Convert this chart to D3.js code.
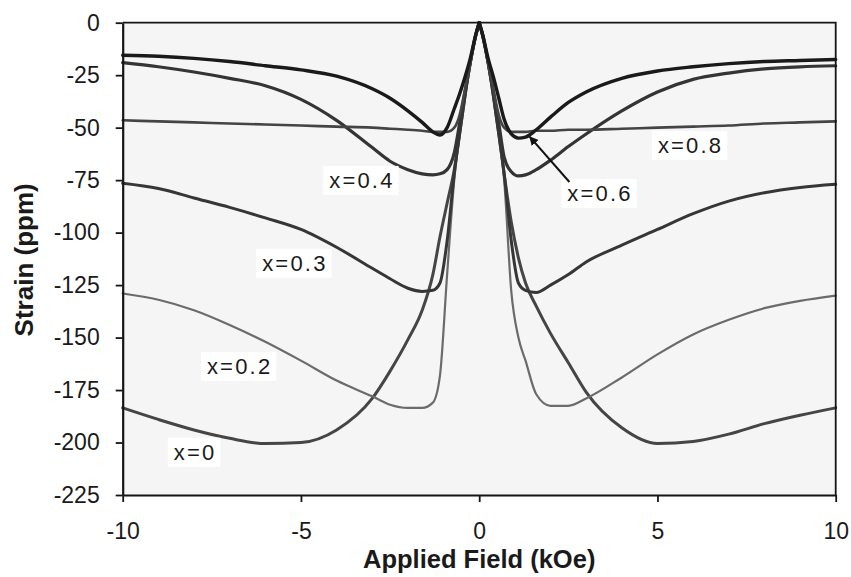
<!DOCTYPE html>
<html>
<head>
<meta charset="utf-8">
<script src="https://cdn.jsdelivr.net/npm/d3@7"></script>
<style>
  html, body { margin: 0; padding: 0; background: #ffffff; }
  svg { display: block; }
  text { font-family: "Liberation Sans", Arial, sans-serif; fill: #1a1a1a; }
</style>
</head>
<body>
<svg id="chart" width="851" height="577"></svg>
<script>
// Applied field grid (kOe), shared by every composition
const fieldGrid = [-10, -9, -8, -7, -6, -5, -4, -3, -2.5, -2, -1.6, -1.3, -1.1, -0.9, -0.7, -0.55, -0.4, -0.25, -0.1, 0,
                   0.1, 0.25, 0.4, 0.55, 0.7, 0.9, 1.1, 1.3, 1.6, 2, 2.5, 3, 4, 5, 6, 7, 8, 9, 10];

// Magnetostriction (ppm) for each composition x
const strainX0  = [-183.5, -189, -194, -198, -200.5, -200, -194, -179, -166, -151, -137, -120, -102, -86, -70, -53, -35, -19, -6, 0,
                   -6, -19, -35, -53, -72, -95, -112, -124, -135, -148, -162, -176, -193, -200.5, -199.5, -196, -191, -187, -183.5];
const strainX02 = [-129, -132, -137, -144, -152, -161, -170.5, -178, -182, -183.5, -183.5, -181, -168, -120, -75, -53, -35, -19, -6, 0,
                   -6, -19, -35, -53, -75, -128, -150, -161, -177, -182.5, -182.5, -179, -169, -158, -148.5, -141.5, -136, -132.5, -130];
const strainX03 = [-76.5, -79, -83.5, -88, -93, -98.5, -107, -117, -122, -126.5, -128, -127.5, -124, -104, -72, -53, -35, -19, -6, 0,
                   -6, -19, -35, -53, -72, -104, -124, -127.5, -128.5, -125, -120, -114, -106, -98.5, -91, -85, -81, -78.5, -77];
const strainX04 = [-19, -21, -23.5, -26.5, -30, -36.5, -46.5, -59.5, -66, -70, -72, -72.5, -72, -70, -62, -48, -33, -19, -6, 0,
                   -6, -19, -33, -48, -64, -71, -73, -72.5, -70, -65.5, -59, -53, -42, -33, -27, -24, -22, -21, -20.5];
const strainX06 = [-15.5, -16, -17, -18.5, -20.5, -22.5, -25.5, -31.5, -36, -42, -47.5, -52, -53.5, -50, -41, -34, -26, -17, -6, 0,
                   -6, -17, -26, -36, -46, -53, -55, -54.5, -51, -45, -38, -33, -26.5, -23, -21, -19.5, -18.5, -18, -17.5];
const strainX08 = [-46.5, -47, -47.5, -48, -48.5, -49, -49.5, -50, -50.5, -51, -51.5, -52, -52, -52, -50, -44, -32, -19, -7, 0,
                   -7, -19, -32, -44, -50, -52, -52, -52, -51.5, -51.5, -51, -51, -50.5, -50, -49.5, -49, -48, -47.5, -47];

// Axis ticks
const fieldTicks = [-10, -5, 0, 5, 10];
const strainTicks = [0, -25, -50, -75, -100, -125, -150, -175, -200, -225];

// Curve annotations: text, anchor field (kOe) and strain (ppm)
const labelText   = ["x=0.4", "x=0.3", "x=0.2", "x=0", "x=0.8", "x=0.6"];
const labelField  = [-3.29, -5.17, -6.72, -7.97, 5.93, 3.39];
const labelStrain = [-78.7, -118.2, -167.3, -208.2, -62.0, -84.9];

// Pointer from the x=0.6 label to its positive-field minimum
const pointerFrom = [2.53, -75.9];
const pointerTo   = [1.42, -54.4];

const series = [
  { name: "x=0",   values: strainX0,  color: "#454545", width: 3.0 },
  { name: "x=0.2", values: strainX02, color: "#6b6b6b", width: 2.2 },
  { name: "x=0.3", values: strainX03, color: "#363636", width: 3.0 },
  { name: "x=0.4", values: strainX04, color: "#343434", width: 3.2 },
  { name: "x=0.8", values: strainX08, color: "#444444", width: 2.6 },
  { name: "x=0.6", values: strainX06, color: "#1a1a1a", width: 3.4 }
];

const svg = d3.select("#chart");
const margin = { left: 122.7, top: 22.7, right: 15.3, bottom: 82 };
const W = 851, H = 577;

const x = d3.scaleLinear().domain([-10, 10]).range([margin.left, W - margin.right]);
const y = d3.scaleLinear().domain([-225, 0]).range([H - margin.bottom, margin.top]);

// Plot area
svg.append("rect")
  .attr("x", x(-10)).attr("y", y(0))
  .attr("width", x(10) - x(-10)).attr("height", y(-225) - y(0))
  .attr("fill", "#f5f5f5");

// Curves: each composition drawn as a negative-field and a positive-field branch
const line = d3.line()
  .x(d => x(d[0]))
  .y(d => y(d[1]))
  .curve(d3.curveMonotoneX);

const curves = svg.append("g").attr("fill", "none")
  .attr("stroke-linejoin", "round").attr("stroke-linecap", "round");

series.forEach(s => {
  const pts = fieldGrid.map((f, i) => [f, s.values[i]]);
  const neg = pts.filter(p => p[0] <= 0);
  const pos = pts.filter(p => p[0] >= 0);
  [neg, pos].forEach(branch => {
    curves.append("path")
      .attr("d", line(branch))
      .attr("stroke", s.color)
      .attr("stroke-width", s.width);
  });
});

// Frame (top and right)
svg.append("path")
  .attr("d", `M${x(-10)},${y(0)}H${x(10)}V${y(-225)}`)
  .attr("fill", "none").attr("stroke", "#151515").attr("stroke-width", 1.8);

// Axes
const yAxis = svg.append("g")
  .attr("transform", `translate(${x(-10)},0)`)
  .call(d3.axisLeft(y).tickValues(strainTicks).tickFormat(d3.format("d"))
        .tickSize(7).tickSizeOuter(0).tickPadding(16));
const xAxis = svg.append("g")
  .attr("transform", `translate(0,${y(-225)})`)
  .call(d3.axisBottom(x).tickValues(fieldTicks).tickFormat(d3.format("d"))
        .tickSize(7).tickSizeOuter(0).tickPadding(21));

[yAxis, xAxis].forEach(g => {
  g.select(".domain").attr("stroke", "#151515").attr("stroke-width", 2.2);
  g.selectAll(".tick line").attr("stroke", "#151515").attr("stroke-width", 1.8);
  g.selectAll(".tick text")
    .attr("font-family", "'Liberation Sans', Arial, sans-serif")
    .attr("font-size", 23).attr("fill", "#1a1a1a");
});
// Minus sign drawn as a plain hyphen
yAxis.selectAll(".tick text").text(d => String(d).replace("\u2212", "-"));
xAxis.selectAll(".tick text").text(d => String(d).replace("\u2212", "-"));

// Axis titles
svg.append("text")
  .attr("x", (x(-10) + x(10)) / 2).attr("y", 568)
  .attr("text-anchor", "middle")
  .attr("font-size", 25.5).attr("font-weight", "bold")
  .text("Applied Field (kOe)");

svg.append("text")
  .attr("transform", `translate(33,${(y(0) + y(-225)) / 2 + 1}) rotate(-90)`)
  .attr("text-anchor", "middle")
  .attr("font-size", 26).attr("font-weight", "bold")
  .text("Strain (ppm)");

// Pointer line with arrowhead
svg.append("defs").append("marker")
  .attr("id", "head").attr("viewBox", "0 0 10 10")
  .attr("refX", 9).attr("refY", 5)
  .attr("markerWidth", 4.5).attr("markerHeight", 4.5)
  .attr("orient", "auto")
  .append("path").attr("d", "M0,0L10,5L0,10Z").attr("fill", "#111");

// Curve labels on white boxes
const labels = svg.append("g");
labelText.forEach((t, i) => {
  const g = labels.append("g");
  const txt = g.append("text")
    .attr("x", x(labelField[i])).attr("y", y(labelStrain[i]))
    .attr("text-anchor", "middle")
    .attr("font-size", 22).attr("letter-spacing", 2.2)
    .text(t);
  const bb = txt.node().getBBox();
  g.insert("rect", "text")
    .attr("x", bb.x - 6).attr("y", bb.y - 2)
    .attr("width", bb.width + 10).attr("height", bb.height + 4)
    .attr("fill", "#ffffff");
});

svg.append("line")
  .attr("x1", x(pointerFrom[0])).attr("y1", y(pointerFrom[1]))
  .attr("x2", x(pointerTo[0])).attr("y2", y(pointerTo[1]))
  .attr("stroke", "#111").attr("stroke-width", 2)
  .attr("marker-end", "url(#head)");
</script>
</body>
</html>
